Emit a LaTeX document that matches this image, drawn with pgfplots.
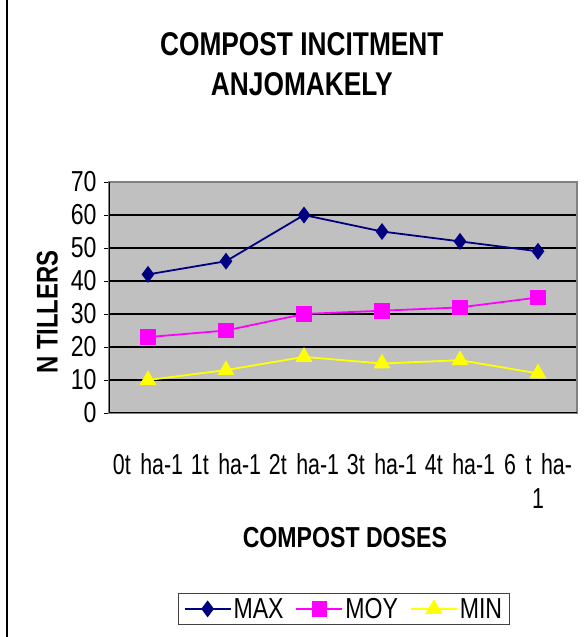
\documentclass[border=0pt]{standalone}
\usepackage{fontspec}
\setmainfont{Liberation Sans}[FakeStretch=0.8]
\newfontfamily\condfont{Liberation Sans}[FakeStretch=0.74, WordSpace=0.55]
\usepackage{pgfplots}
\pgfplotsset{compat=1.18}
\definecolor{bggray}{HTML}{C0C0C0}
\definecolor{maxc}{HTML}{000080}
\definecolor{moyc}{HTML}{FF00FF}
\definecolor{minc}{HTML}{FFFF00}
\begin{document}
\begin{tikzpicture}
\begin{axis}[
  at={(109bp,224bp)}, anchor=south west,
  scale only axis, width=468bp, height=231bp,
  xmin=0.5, xmax=6.5, ymin=0, ymax=70,
  ytick={0,10,...,70},
  xtick={1,...,6},
  xticklabels={0t ha-1,1t ha-1,2t ha-1,3t ha-1,4t ha-1,{6 t ha-\\1}},
  minor xtick={0.5,1.5,...,6.5},
  xtick pos=bottom, ytick pos=left,
  tick align=outside,
  major tick length=5bp, minor tick length=7bp,
  xtick style={draw=none},
  minor x tick style={black, line width=0.9pt},
  ytick style={black, line width=0.9pt},
  xmajorgrids=false, ymajorgrids=true,
  major grid style={black, line width=1.1pt},
  axis line style={draw=gray, line width=1.5pt},
  axis background/.style={fill=bggray},
  /pgf/number format/assume math mode=true,
  tick label style={font=\fontsize{29}{33}\selectfont},
  yticklabel style={xshift=-4bp},
  xticklabel style={align=center, text width=78bp, yshift=-32bp, font=\condfont\fontsize{29}{34}\selectfont},
  title={COMPOST INCITMENT\\ANJOMAKELY},
  title style={at={(0.412,1.485)}, anchor=center, align=center, font=\bfseries\fontsize{33}{40}\selectfont},
  ylabel={N TILLERS},
  ylabel style={at={(-0.132,0.437)}, anchor=center, rotate=0, font=\bfseries\fontsize{30}{34}\selectfont},
  xlabel={COMPOST DOSES},
  xlabel style={at={(0.504,-0.541)}, anchor=center, font=\bfseries\fontsize{29}{34}\selectfont},
  legend columns=3,
  legend style={at={(0.502,-0.848)}, anchor=center, draw=black!75, line width=0.8pt,
    font=\fontsize{29}{33}\selectfont, inner xsep=5bp, inner ysep=3bp,
    /tikz/every even column/.append style={column sep=10bp}},
  legend image code/.code={\draw[mark repeat=2,mark phase=2,#1] plot coordinates {(0bp,0bp) (23bp,0bp) (46bp,0bp)};},
]
\addplot[maxc, line width=1.8pt, mark=diamond*, mark size=7bp, mark options={solid, fill=maxc}]
  coordinates {(1,42) (2,46) (3,60) (4,55) (5,52) (6,49)};
\addlegendentry{MAX}
\addplot[moyc, line width=1.8pt, mark=square*, mark size=7bp, mark options={solid, fill=moyc}]
  coordinates {(1,23) (2,25) (3,30) (4,31) (5,32) (6,35)};
\addlegendentry{MOY}
\addplot[minc, line width=1.8pt, mark=triangle*, mark size=8bp, mark options={solid, fill=minc}]
  coordinates {(1,10) (2,13) (3,17) (4,15) (5,16) (6,12)};
\addlegendentry{MIN}
\draw[black, line width=1.2pt] (rel axis cs:0,0) -- (rel axis cs:0,1);
\draw[black, line width=1.2pt] (rel axis cs:0,0) -- (rel axis cs:1,0);
\end{axis}
\draw[black, line width=1.2pt] (7bp,0bp) -- (7bp,637bp);
\pgfresetboundingbox
\useasboundingbox (0bp,0bp) rectangle (587bp,637bp);
\end{tikzpicture}
\end{document}
